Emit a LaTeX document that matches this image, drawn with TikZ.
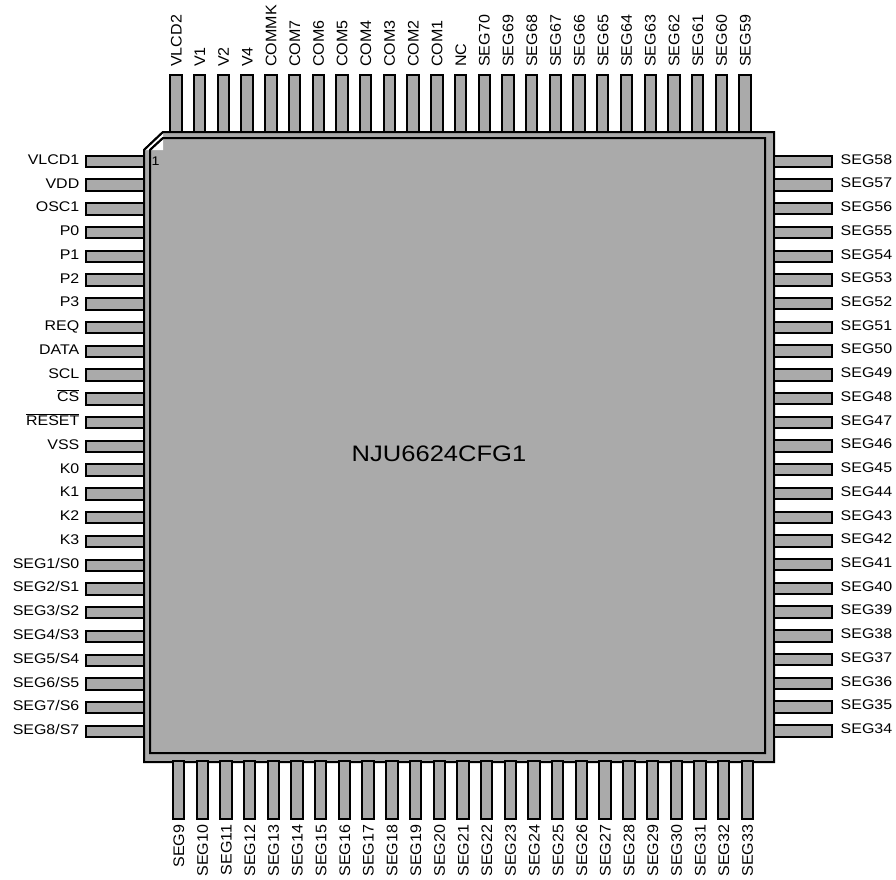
\documentclass[tikz,border=0pt]{standalone}
\usepackage{fontspec}
\setmainfont[FakeStretch=1.14]{Liberation Sans}
\newfontfamily\rotfont[FakeStretch=1.05]{Liberation Sans}
\definecolor{chip}{RGB}{170,170,170}
\newcommand{\ovl}[1]{\leavevmode\vbox{\hrule height 1pt\kern 1.2pt\hbox{#1}}}
\tikzset{
  x=1pt,y=-1pt,
  pinbox/.style={draw=black,fill=chip,line width=2pt,line join=miter},
  pkg/.style={draw=black,fill=chip,line width=2pt},
  lab/.style={inner sep=0pt,font=\fontsize{14}{14}\selectfont},
  rlab/.style={inner sep=0pt,rotate=90,font=\rotfont\fontsize{15.3}{15}\selectfont},
}
\begin{document}
\begin{tikzpicture}
\useasboundingbox (0,0) rectangle (896,879);
% package
\draw[pkg] (144,150) -- (163,132) -- (774,132) -- (774,762) -- (144,762) -- cycle;
\fill[white] (145,150) -- (163,133) -- (163,150) -- cycle;
\draw[pkg] (150,150) -- (163,138) -- (765,138) -- (765,753) -- (150,753) -- cycle;
\fill[white] (151,150) -- (163,139) -- (163,150) -- cycle;
\draw[black,line width=2pt] (144,150) -- (163,132);
\draw[black,line width=2pt] (150,150) -- (163,138);
% left pins
\foreach \t [count=\i from 0] in {VLCD1,VDD,OSC1,P0,P1,P2,P3,REQ,DATA,SCL,\ovl{CS},\ovl{RESET},VSS,K0,K1,K2,K3,SEG1/S0,SEG2/S1,SEG3/S2,SEG4/S3,SEG5/S4,SEG6/S5,SEG7/S6,SEG8/S7}{
  \pgfmathsetmacro{\yy}{161.3+23.76*\i}
  \pgfmathsetmacro{\ya}{round(\yy-5.7)}
  \pgfmathsetmacro{\yb}{round(\yy+5.7)}
  \draw[pinbox] (144,\ya) rectangle (86,\yb);
  \node[lab,anchor=base east] (L\i) at (79.5,\yy+3) {\t};
}
% right pins
\foreach \t [count=\i from 0] in {SEG58,SEG57,SEG56,SEG55,SEG54,SEG53,SEG52,SEG51,SEG50,SEG49,SEG48,SEG47,SEG46,SEG45,SEG44,SEG43,SEG42,SEG41,SEG40,SEG39,SEG38,SEG37,SEG36,SEG35,SEG34}{
  \pgfmathsetmacro{\yy}{161.3+23.73*\i}
  \pgfmathsetmacro{\ya}{round(\yy-5.7)}
  \pgfmathsetmacro{\yb}{round(\yy+5.7)}
  \draw[pinbox] (774,\ya) rectangle (832,\yb);
  \node[lab,anchor=base west] (R\i) at (840.5,\yy+2.8) {\t};
}
% top pins
\foreach \t [count=\i from 0] in {VLCD2,V1,V2,V4,COMMK,COM7,COM6,COM5,COM4,COM3,COM2,COM1,NC,SEG70,SEG69,SEG68,SEG67,SEG66,SEG65,SEG64,SEG63,SEG62,SEG61,SEG60,SEG59}{
  \pgfmathsetmacro{\xx}{176+23.71*\i}
  \pgfmathsetmacro{\xa}{round(\xx-5.7)}
  \pgfmathsetmacro{\xb}{round(\xx+5.7)}
  \draw[pinbox] (\xa,75) rectangle (\xb,132);
  \node[rlab,anchor=base west] (T\i) at (\xx+5.5,67) {\t};
}
% bottom pins
\foreach \t [count=\i from 0] in {SEG9,SEG10,SEG11,SEG12,SEG13,SEG14,SEG15,SEG16,SEG17,SEG18,SEG19,SEG20,SEG21,SEG22,SEG23,SEG24,SEG25,SEG26,SEG27,SEG28,SEG29,SEG30,SEG31,SEG32,SEG33}{
  \pgfmathsetmacro{\xx}{178.6+23.70*\i}
  \pgfmathsetmacro{\xa}{round(\xx-5.7)}
  \pgfmathsetmacro{\xb}{round(\xx+5.7)}
  \draw[pinbox] (\xa,761) rectangle (\xb,819);
  \node[rlab,anchor=base east] (B\i) at (\xx+5.5,824.5) {\t};
}
\node[lab,font=\fontsize{12.5}{12}\selectfont,anchor=center] (one) at (155.5,161.5) {1};
\node[lab,font=\fontsize{22.4}{23}\selectfont,anchor=center] (title) at (439,453.5) {NJU6624CFG1};
\end{tikzpicture}
\end{document}
